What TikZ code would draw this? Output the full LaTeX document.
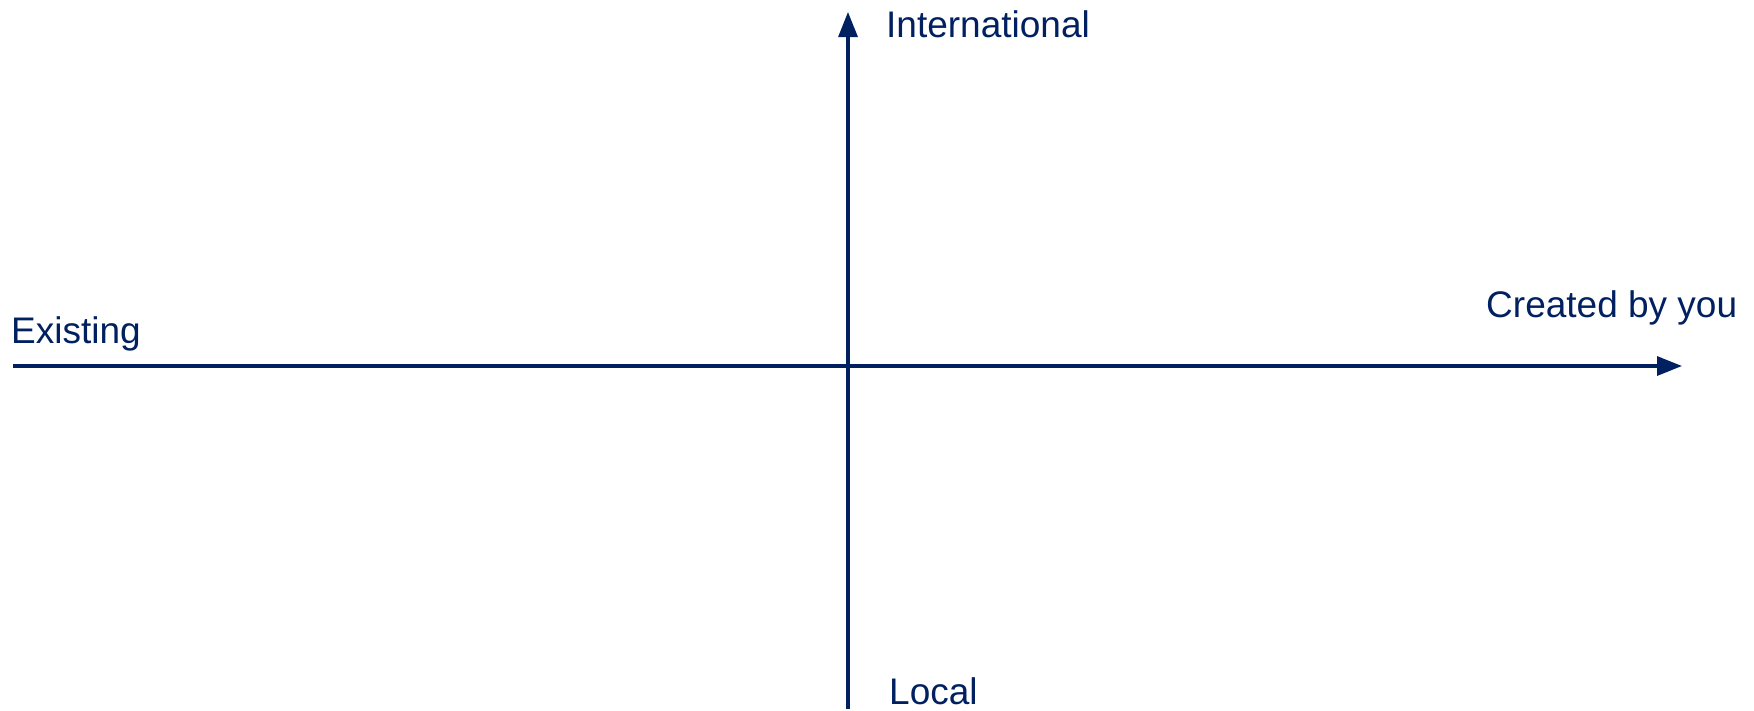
\documentclass[tikz,border=0pt]{standalone}
\usepackage{fontspec}
\setmainfont{Liberation Sans}
\usetikzlibrary{arrows.meta}
\definecolor{navy}{RGB}{0,32,96}
\tikzset{
  axis/.style={draw=navy, line width=3.2pt, -{Triangle[length=25pt,width=19pt]}},
  axislabel/.style={text=navy, font=\fontsize{37}{44}\selectfont, inner sep=0pt, anchor=base west}
}
\begin{document}
\begin{tikzpicture}[x=1pt,y=-1pt]
\useasboundingbox (0,0) rectangle (1754,710);
\coordinate (hL) at (13,366);
\coordinate (hR) at (1682,366);
\coordinate (vB) at (848,709);
\coordinate (vT) at (848,12);
\draw[axis] (hL) -- (hR);
\draw[axis] (vB) -- (vT);
\node[axislabel] (intl) at (886,37) {International};
\node[axislabel] (created) at (1486,317) {Created by you};
\node[axislabel] (exist) at (11,343) {Existing};
\node[axislabel] (local) at (889,704) {Local};
\end{tikzpicture}
\end{document}
